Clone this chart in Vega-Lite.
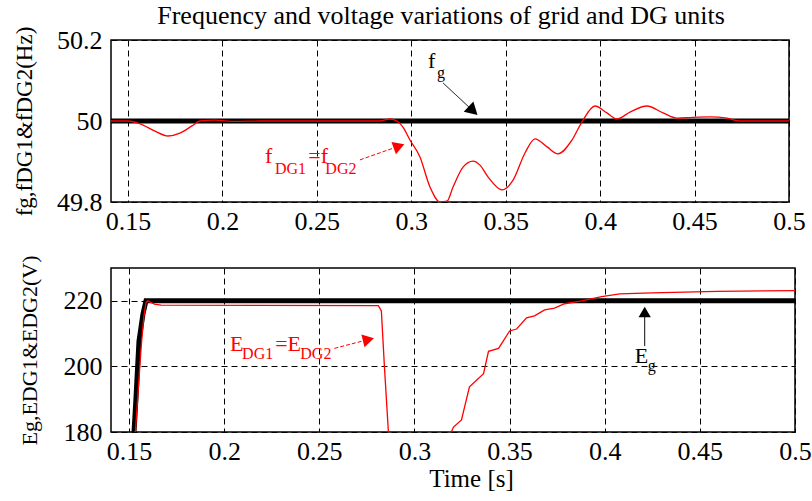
{
  "$schema": "https://vega.github.io/schema/vega-lite/v6.json",
  "padding": {"left": 12, "top": 2, "right": 10, "bottom": 2},
  "background": "white",
  "spacing": 19,
  "config": {
    "font": "Liberation Serif",
    "view": {"stroke": "black", "strokeWidth": 1.5},
    "axis": {
      "labelFont": "Liberation Serif", "labelFontSize": 26, "labelColor": "black",
      "titleFont": "Liberation Serif", "titleFontWeight": "normal", "titleColor": "black",
      "grid": true, "gridColor": "black", "gridDash": [6, 4], "gridOpacity": 1, "gridWidth": 1,
      "domain": false, "ticks": false, "labelFlush": false
    },
    "legend": {"disable": true}
  },
  "datasets": {
    "freq": [
      {"s": "fg", "t": 0.141, "v": 50.0}, {"s": "fg", "t": 0.5, "v": 50.0},
      {"s": "fDG", "t": 0.141, "v": 50.0}, {"s": "fDG", "t": 0.15, "v": 50.0},
      {"s": "fDG", "t": 0.1564, "v": 49.993}, {"s": "fDG", "t": 0.1643, "v": 49.975},
      {"s": "fDG", "t": 0.1712, "v": 49.963}, {"s": "fDG", "t": 0.1775, "v": 49.970},
      {"s": "fDG", "t": 0.1839, "v": 49.988}, {"s": "fDG", "t": 0.1881, "v": 50.0},
      {"s": "fDG", "t": 0.196, "v": 50.002}, {"s": "fDG", "t": 0.2067, "v": 49.999},
      {"s": "fDG", "t": 0.2199, "v": 50.0}, {"s": "fDG", "t": 0.2834, "v": 50.0},
      {"s": "fDG", "t": 0.2887, "v": 50.005}, {"s": "fDG", "t": 0.2924, "v": 50.0},
      {"s": "fDG", "t": 0.2956, "v": 49.985}, {"s": "fDG", "t": 0.2993, "v": 49.953},
      {"s": "fDG", "t": 0.3046, "v": 49.911}, {"s": "fDG", "t": 0.3099, "v": 49.837},
      {"s": "fDG", "t": 0.3152, "v": 49.8}, {"s": "fDG", "t": 0.3189, "v": 49.802},
      {"s": "fDG", "t": 0.3221, "v": 49.837}, {"s": "fDG", "t": 0.3274, "v": 49.886},
      {"s": "fDG", "t": 0.3327, "v": 49.901}, {"s": "fDG", "t": 0.3364, "v": 49.891},
      {"s": "fDG", "t": 0.3406, "v": 49.862}, {"s": "fDG", "t": 0.348, "v": 49.83},
      {"s": "fDG", "t": 0.3539, "v": 49.854}, {"s": "fDG", "t": 0.3602, "v": 49.921},
      {"s": "fDG", "t": 0.3655, "v": 49.956}, {"s": "fDG", "t": 0.3719, "v": 49.936},
      {"s": "fDG", "t": 0.3777, "v": 49.919}, {"s": "fDG", "t": 0.3851, "v": 49.953},
      {"s": "fDG", "t": 0.3904, "v": 49.998}, {"s": "fDG", "t": 0.3973, "v": 50.037},
      {"s": "fDG", "t": 0.4036, "v": 50.02}, {"s": "fDG", "t": 0.4089, "v": 50.005},
      {"s": "fDG", "t": 0.4158, "v": 50.022}, {"s": "fDG", "t": 0.4248, "v": 50.037},
      {"s": "fDG", "t": 0.4333, "v": 50.02}, {"s": "fDG", "t": 0.4407, "v": 50.007},
      {"s": "fDG", "t": 0.4492, "v": 50.009}, {"s": "fDG", "t": 0.4582, "v": 50.01},
      {"s": "fDG", "t": 0.4672, "v": 50.007}, {"s": "fDG", "t": 0.4741, "v": 50.0},
      {"s": "fDG", "t": 0.5, "v": 50.0}
    ],
    "volt": [
      {"s": "Eg", "t": 0.1521, "v": 170}, {"s": "Eg", "t": 0.1526, "v": 180},
      {"s": "Eg", "t": 0.1536, "v": 190}, {"s": "Eg", "t": 0.1552, "v": 207.7},
      {"s": "Eg", "t": 0.1573, "v": 216}, {"s": "Eg", "t": 0.1589, "v": 220},
      {"s": "Eg", "t": 0.5, "v": 220},
      {"s": "EDG", "t": 0.1528, "v": 170}, {"s": "EDG", "t": 0.1533, "v": 180},
      {"s": "EDG", "t": 0.1545, "v": 190.1}, {"s": "EDG", "t": 0.1563, "v": 205.5},
      {"s": "EDG", "t": 0.1577, "v": 214.9}, {"s": "EDG", "t": 0.1589, "v": 219.5},
      {"s": "EDG", "t": 0.1598, "v": 220.0}, {"s": "EDG", "t": 0.1633, "v": 219.0},
      {"s": "EDG", "t": 0.1668, "v": 218.7}, {"s": "EDG", "t": 0.281, "v": 218.5},
      {"s": "EDG", "t": 0.2826, "v": 216.9}, {"s": "EDG", "t": 0.2842, "v": 200},
      {"s": "EDG", "t": 0.2863, "v": 180}, {"s": "EDG", "t": 0.2875, "v": 172},
      {"s": "EDG", "t": 0.2905, "v": 179.6}, {"s": "EDG", "t": 0.2925, "v": 172},
      {"s": "EDG", "t": 0.315, "v": 165}, {"s": "EDG", "t": 0.3194, "v": 180},
      {"s": "EDG", "t": 0.3205, "v": 181.5}, {"s": "EDG", "t": 0.3247, "v": 183.7},
      {"s": "EDG", "t": 0.3289, "v": 193.8}, {"s": "EDG", "t": 0.3363, "v": 197.8},
      {"s": "EDG", "t": 0.3389, "v": 204.6}, {"s": "EDG", "t": 0.3442, "v": 205.5},
      {"s": "EDG", "t": 0.35, "v": 210.8}, {"s": "EDG", "t": 0.3537, "v": 211.4},
      {"s": "EDG", "t": 0.3589, "v": 214.8}, {"s": "EDG", "t": 0.3631, "v": 215.4},
      {"s": "EDG", "t": 0.3684, "v": 217.2}, {"s": "EDG", "t": 0.3736, "v": 217.8},
      {"s": "EDG", "t": 0.3789, "v": 219.1}, {"s": "EDG", "t": 0.3879, "v": 220.0},
      {"s": "EDG", "t": 0.3984, "v": 221.3}, {"s": "EDG", "t": 0.4079, "v": 222.1},
      {"s": "EDG", "t": 0.4247, "v": 222.4}, {"s": "EDG", "t": 0.4589, "v": 222.9},
      {"s": "EDG", "t": 0.5, "v": 223.1}
    ],
    "farrows": [
      {"a": "g", "t": 0.3168, "v": 50.094}, {"a": "g", "t": 0.3327, "v": 50.025},
      {"a": "DG", "t": 0.2728, "v": 49.904}, {"a": "DG", "t": 0.2935, "v": 49.938}
    ],
    "fheads_g": [{"a": "g", "t": 0.3327, "v": 50.025}],
    "fheads_DG": [{"a": "DG", "t": 0.2935, "v": 49.938}],
    "fmain": [
      {"a": "g", "t": 0.3089, "v": 50.131, "label": "f"},
      {"a": "DG", "t": 0.2225, "v": 49.896, "label": "f"},
      {"a": "DG", "t": 0.2455, "v": 49.896, "label": "=f"}
    ],
    "fsub": [
      {"a": "g", "t": 0.3136, "v": 50.107, "label": "g"},
      {"a": "DG", "t": 0.2278, "v": 49.869, "label": "DG1"},
      {"a": "DG", "t": 0.2545, "v": 49.869, "label": "DG2"}
    ],
    "varrows": [
      {"a": "g", "t": 0.421, "v": 206.2}, {"a": "g", "t": 0.421, "v": 216.6},
      {"a": "DG", "t": 0.2579, "v": 205.5}, {"a": "DG", "t": 0.2758, "v": 208.2}
    ],
    "vheads_g": [{"a": "g", "t": 0.421, "v": 216.6}],
    "vheads_DG": [{"a": "DG", "t": 0.2758, "v": 208.2}],
    "vmain": [
      {"a": "g", "t": 0.4158, "v": 200.9, "label": "E"},
      {"a": "DG", "t": 0.2031, "v": 204.6, "label": "E"},
      {"a": "DG", "t": 0.2268, "v": 204.6, "label": "=E"}
    ],
    "vsub": [
      {"a": "g", "t": 0.4226, "v": 198.5, "label": "g"},
      {"a": "DG", "t": 0.2094, "v": 202.2, "label": "DG1"},
      {"a": "DG", "t": 0.2400, "v": 202.2, "label": "DG2"}
    ]
  },
  "vconcat": [
    {
      "title": {"text": "Frequency and voltage variations of grid and DG units", "font": "Liberation Serif", "fontSize": 26, "fontWeight": "normal", "color": "black", "anchor": "middle", "offset": -3, "dx": -9},
      "width": 678,
      "height": 162,
      "encoding": {
        "x": {"field": "t", "type": "quantitative", "scale": {"domain": [0.141, 0.5], "nice": false, "zero": false},
              "axis": {"values": [0.15, 0.2, 0.25, 0.3, 0.35, 0.4, 0.45, 0.5], "format": "~g", "title": null, "labelPadding": 6, "labelFont": "Liberation Serif", "labelFontSize": 26}},
        "y": {"field": "v", "type": "quantitative", "scale": {"domain": [49.8, 50.2], "nice": false, "zero": false},
              "axis": {"values": [49.8, 50, 50.2], "format": "~g", "title": "fg,fDG1&fDG2(Hz)", "titleFontSize": 23, "titlePadding": 20, "labelPadding": 9, "labelFont": "Liberation Serif", "labelFontSize": 26}}
      },
      "layer": [
        {"data": {"name": "freq"}, "transform": [{"filter": "datum.s === 'fg'"}], "mark": {"type": "line", "color": "black", "strokeWidth": 5, "clip": true}},
        {"data": {"name": "freq"}, "transform": [{"filter": "datum.s === 'fDG'"}], "mark": {"type": "line", "color": "#ff0000", "strokeWidth": 1.3, "interpolate": "monotone", "clip": true}},
        {"data": {"name": "farrows"}, "mark": {"type": "line", "strokeWidth": 1},
         "encoding": {"detail": {"field": "a"}, "color": {"field": "a", "type": "nominal", "scale": {"domain": ["g", "DG"], "range": ["black", "#ff0000"]}},
                      "strokeDash": {"field": "a", "type": "nominal", "scale": {"domain": ["g", "DG"], "range": [[1, 0], [4, 2]]}}}},
        {"data": {"name": "fheads_g"}, "mark": {"type": "point", "shape": "triangle-up", "filled": true, "color": "black", "size": 200, "angle": 133, "opacity": 1}},
        {"data": {"name": "fheads_DG"}, "mark": {"type": "point", "shape": "triangle-up", "filled": true, "color": "#ff0000", "size": 170, "angle": 70, "opacity": 1}},
        {"data": {"name": "fmain"}, "mark": {"type": "text", "font": "Liberation Serif", "fontSize": 22, "align": "left", "baseline": "alphabetic"},
         "encoding": {"text": {"field": "label"}, "color": {"field": "a", "type": "nominal", "scale": {"domain": ["g", "DG"], "range": ["black", "#ff0000"]}}}},
        {"data": {"name": "fsub"}, "mark": {"type": "text", "font": "Liberation Serif", "fontSize": 16, "align": "left", "baseline": "alphabetic"},
         "encoding": {"text": {"field": "label"}, "color": {"field": "a", "type": "nominal", "scale": {"domain": ["g", "DG"], "range": ["black", "#ff0000"]}}}}
      ]
    },
    {
      "width": 684,
      "height": 164,
      "encoding": {
        "x": {"field": "t", "type": "quantitative", "scale": {"domain": [0.1405, 0.5], "nice": false, "zero": false},
              "axis": {"values": [0.15, 0.2, 0.25, 0.3, 0.35, 0.4, 0.45, 0.5], "format": "~g", "title": "Time [s]", "titleFontSize": 25, "titlePadding": 2, "titleX": 360, "labelPadding": 6, "labelFont": "Liberation Serif", "labelFontSize": 26}},
        "y": {"field": "v", "type": "quantitative", "scale": {"domain": [180, 230], "nice": false, "zero": false},
              "axis": {"values": [180, 200, 220], "title": "Eg,EDG1&EDG2(V)", "titleFontSize": 22, "titlePadding": 22, "labelPadding": 9, "labelFont": "Liberation Serif", "labelFontSize": 26}}
      },
      "layer": [
        {"data": {"name": "volt"}, "transform": [{"filter": "datum.s === 'Eg'"}], "mark": {"type": "line", "color": "black", "strokeWidth": 5, "clip": true}},
        {"data": {"name": "volt"}, "transform": [{"filter": "datum.s === 'EDG'"}], "mark": {"type": "line", "color": "#ff0000", "strokeWidth": 1.3, "clip": true}},
        {"data": {"name": "varrows"}, "mark": {"type": "line", "strokeWidth": 1},
         "encoding": {"detail": {"field": "a"}, "color": {"field": "a", "type": "nominal", "scale": {"domain": ["g", "DG"], "range": ["black", "#ff0000"]}},
                      "strokeDash": {"field": "a", "type": "nominal", "scale": {"domain": ["g", "DG"], "range": [[1, 0], [4, 2]]}}}},
        {"data": {"name": "vheads_g"}, "mark": {"type": "point", "shape": "triangle-up", "filled": true, "color": "black", "size": 150, "angle": 0, "opacity": 1}},
        {"data": {"name": "vheads_DG"}, "mark": {"type": "point", "shape": "triangle-up", "filled": true, "color": "#ff0000", "size": 170, "angle": 76, "opacity": 1}},
        {"data": {"name": "vmain"}, "mark": {"type": "text", "font": "Liberation Serif", "fontSize": 22, "align": "left", "baseline": "alphabetic"},
         "encoding": {"text": {"field": "label"}, "color": {"field": "a", "type": "nominal", "scale": {"domain": ["g", "DG"], "range": ["black", "#ff0000"]}}}},
        {"data": {"name": "vsub"}, "mark": {"type": "text", "font": "Liberation Serif", "fontSize": 16, "align": "left", "baseline": "alphabetic"},
         "encoding": {"text": {"field": "label"}, "color": {"field": "a", "type": "nominal", "scale": {"domain": ["g", "DG"], "range": ["black", "#ff0000"]}}}}
      ]
    }
  ]
}
